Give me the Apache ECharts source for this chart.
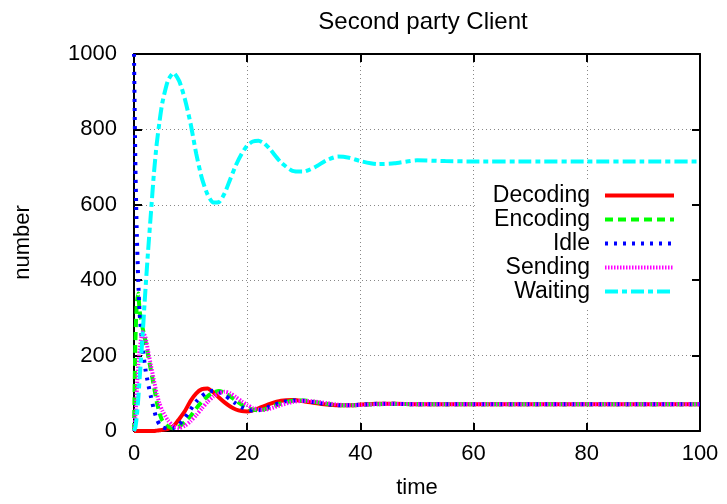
<!DOCTYPE html>
<html>
<head>
<meta charset="utf-8">
<script src="https://cdn.jsdelivr.net/npm/echarts@6/dist/echarts.min.js"></script>
<style>
  html, body { margin: 0; padding: 0; background: #fff; }
  #main { width: 727px; height: 504px; }
</style>
</head>
<body>
<div id="main"></div>
<script>
// time points (non-uniform, denser at the start)
var times = [0, 0.25, 0.5, 0.75, 1, 1.5, 2, 2.5, 3, 3.5, 4, 4.5, 5,
  6, 7, 8, 9, 10, 11, 12, 13, 14, 15, 16, 17, 18, 19, 20, 21, 22, 23, 24,
  26, 28, 30, 32, 34, 36, 38, 40, 43, 46, 50, 55, 60, 70, 80, 90, 100];

var decoding = [0, 0, 0, 0, 0, 0, 0, 0, 0, 0, 1, 2, 3,
  6, 13, 32, 53, 80, 100, 111, 113, 103, 89, 76, 65, 57, 53, 52, 55, 60, 66, 72,
  80, 82, 79, 74, 70, 68, 68, 70, 72, 72, 71, 71, 71, 71, 71, 71, 71];
var encoding = [0, 240, 340, 365, 318, 275, 240, 200, 160, 120, 79, 48, 28,
  12, 7, 12, 24, 40, 60, 78, 92, 102, 106, 102, 92, 81, 70, 62, 57, 55, 57, 62,
  73, 80, 81, 77, 72, 69, 68, 69, 71, 72, 71, 71, 71, 71, 71, 71, 71];
var idle = [1000, 700, 520, 400, 310, 225, 165, 125, 90, 58, 32, 17, 10,
  6, 8, 18, 35, 57, 78, 93, 103, 107, 104, 95, 84, 73, 63, 57, 54, 55, 59, 65,
  76, 81, 80, 76, 71, 68, 68, 70, 72, 72, 71, 71, 71, 71, 71, 71, 71];
var sending = [0, 40, 110, 175, 215, 262, 250, 211, 173, 136, 100, 73, 54,
  28, 13, 8, 14, 26, 42, 60, 77, 91, 100, 104, 100, 90, 79, 69, 61, 57, 56, 59,
  69, 77, 80, 78, 74, 70, 68, 69, 71, 72, 71, 71, 71, 71, 71, 71, 71];
var waiting = [0, 10, 40, 85, 140, 250, 370, 480, 580, 680, 760, 820, 870,
  930, 950, 928, 880, 815, 735, 670, 627, 606, 607, 630, 668, 705, 735, 757, 768, 770, 763, 748,
  712, 690, 688, 700, 718, 728, 725, 716, 708, 710, 718, 716, 715, 715, 715, 715, 715];

var names = ['Decoding', 'Encoding', 'Idle', 'Sending', 'Waiting'];
var colors = ['#ff0000', '#00ff00', '#0000ff', '#ff00ff', '#00ffff'];
var dashes = ['solid', [8, 5], [3, 6], [1.5, 1.5], [13, 4, 5, 4]];
var values = [decoding, encoding, idle, sending, waiting];

var font = 'Liberation Sans, Arial, Helvetica, sans-serif';
var myChart = echarts.init(document.getElementById('main'));

function pairs(arr) {
  return times.map(function (t, i) { return [t, arr[i]]; });
}

var series = names.map(function (n, k) {
  return {
    name: n,
    type: 'line',
    data: pairs(values[k]),
    showSymbol: false,
    symbol: 'none',
    smooth: 0.2,
    lineStyle: { color: colors[k], width: 4, type: dashes[k] },
    itemStyle: { color: colors[k] }
  };
});

var gridLine = { show: true, lineStyle: { color: '#888', width: 1, type: [1, 3] } };

var option = {
  animation: false,
  backgroundColor: '#fff',
  title: {
    text: 'Second party Client',
    left: 418,
    textAlign: 'center',
    top: 5,
    textStyle: { fontFamily: font, fontSize: 24, fontWeight: 'normal', color: '#000' }
  },
  grid: { left: 134, right: 27, top: 54, bottom: 71 },
  legend: {
    data: names,
    orient: 'vertical',
    align: 'right',
    right: 36,
    top: 182,
    itemWidth: 69,
    itemHeight: 14,
    itemGap: 1,
    padding: [2, 15, 6, 18],
    backgroundColor: '#fff',
    textStyle: { fontFamily: font, fontSize: 23, color: '#000', padding: [0, 10, 0, 0] },
    lineStyle: { width: 4 },
    itemStyle: { opacity: 0 },
    z: 5
  },
  xAxis: [{
    type: 'value', min: 0, max: 100, interval: 20,
    name: 'time', nameLocation: 'middle', nameGap: 46,
    nameTextStyle: { fontFamily: font, fontSize: 22, color: '#000' },
    axisLine: { show: true, onZero: false, lineStyle: { color: '#000', width: 2 } },
    axisTick: { show: true, inside: true, length: 8, lineStyle: { color: '#000', width: 2 } },
    axisLabel: { fontFamily: font, fontSize: 22, color: '#000', margin: 12 },
    splitLine: gridLine
  }, {
    type: 'value', min: 0, max: 100, interval: 20, position: 'top',
    axisLine: { show: true, onZero: false, lineStyle: { color: '#000', width: 2 } },
    axisTick: { show: true, inside: true, length: 8, lineStyle: { color: '#000', width: 2 } },
    axisLabel: { show: false },
    splitLine: { show: false }
  }],
  yAxis: [{
    type: 'value', min: 0, max: 1000, interval: 200,
    name: 'number', nameLocation: 'middle', nameGap: 100, nameRotate: 90,
    nameTextStyle: { fontFamily: font, fontSize: 22, color: '#000' },
    axisLine: { show: true, onZero: false, lineStyle: { color: '#000', width: 2 } },
    axisTick: { show: true, inside: true, length: 8, lineStyle: { color: '#000', width: 2 } },
    axisLabel: {
      fontFamily: font, fontSize: 22, color: '#000', margin: 17,
      formatter: function (v) { return String(v); }
    },
    splitLine: gridLine
  }, {
    type: 'value', min: 0, max: 1000, interval: 200, position: 'right',
    axisLine: { show: true, onZero: false, lineStyle: { color: '#000', width: 2 } },
    axisTick: { show: true, inside: true, length: 8, lineStyle: { color: '#000', width: 2 } },
    axisLabel: { show: false },
    splitLine: { show: false }
  }],
  series: series
};

myChart.setOption(option);
</script>
</body>
</html>
